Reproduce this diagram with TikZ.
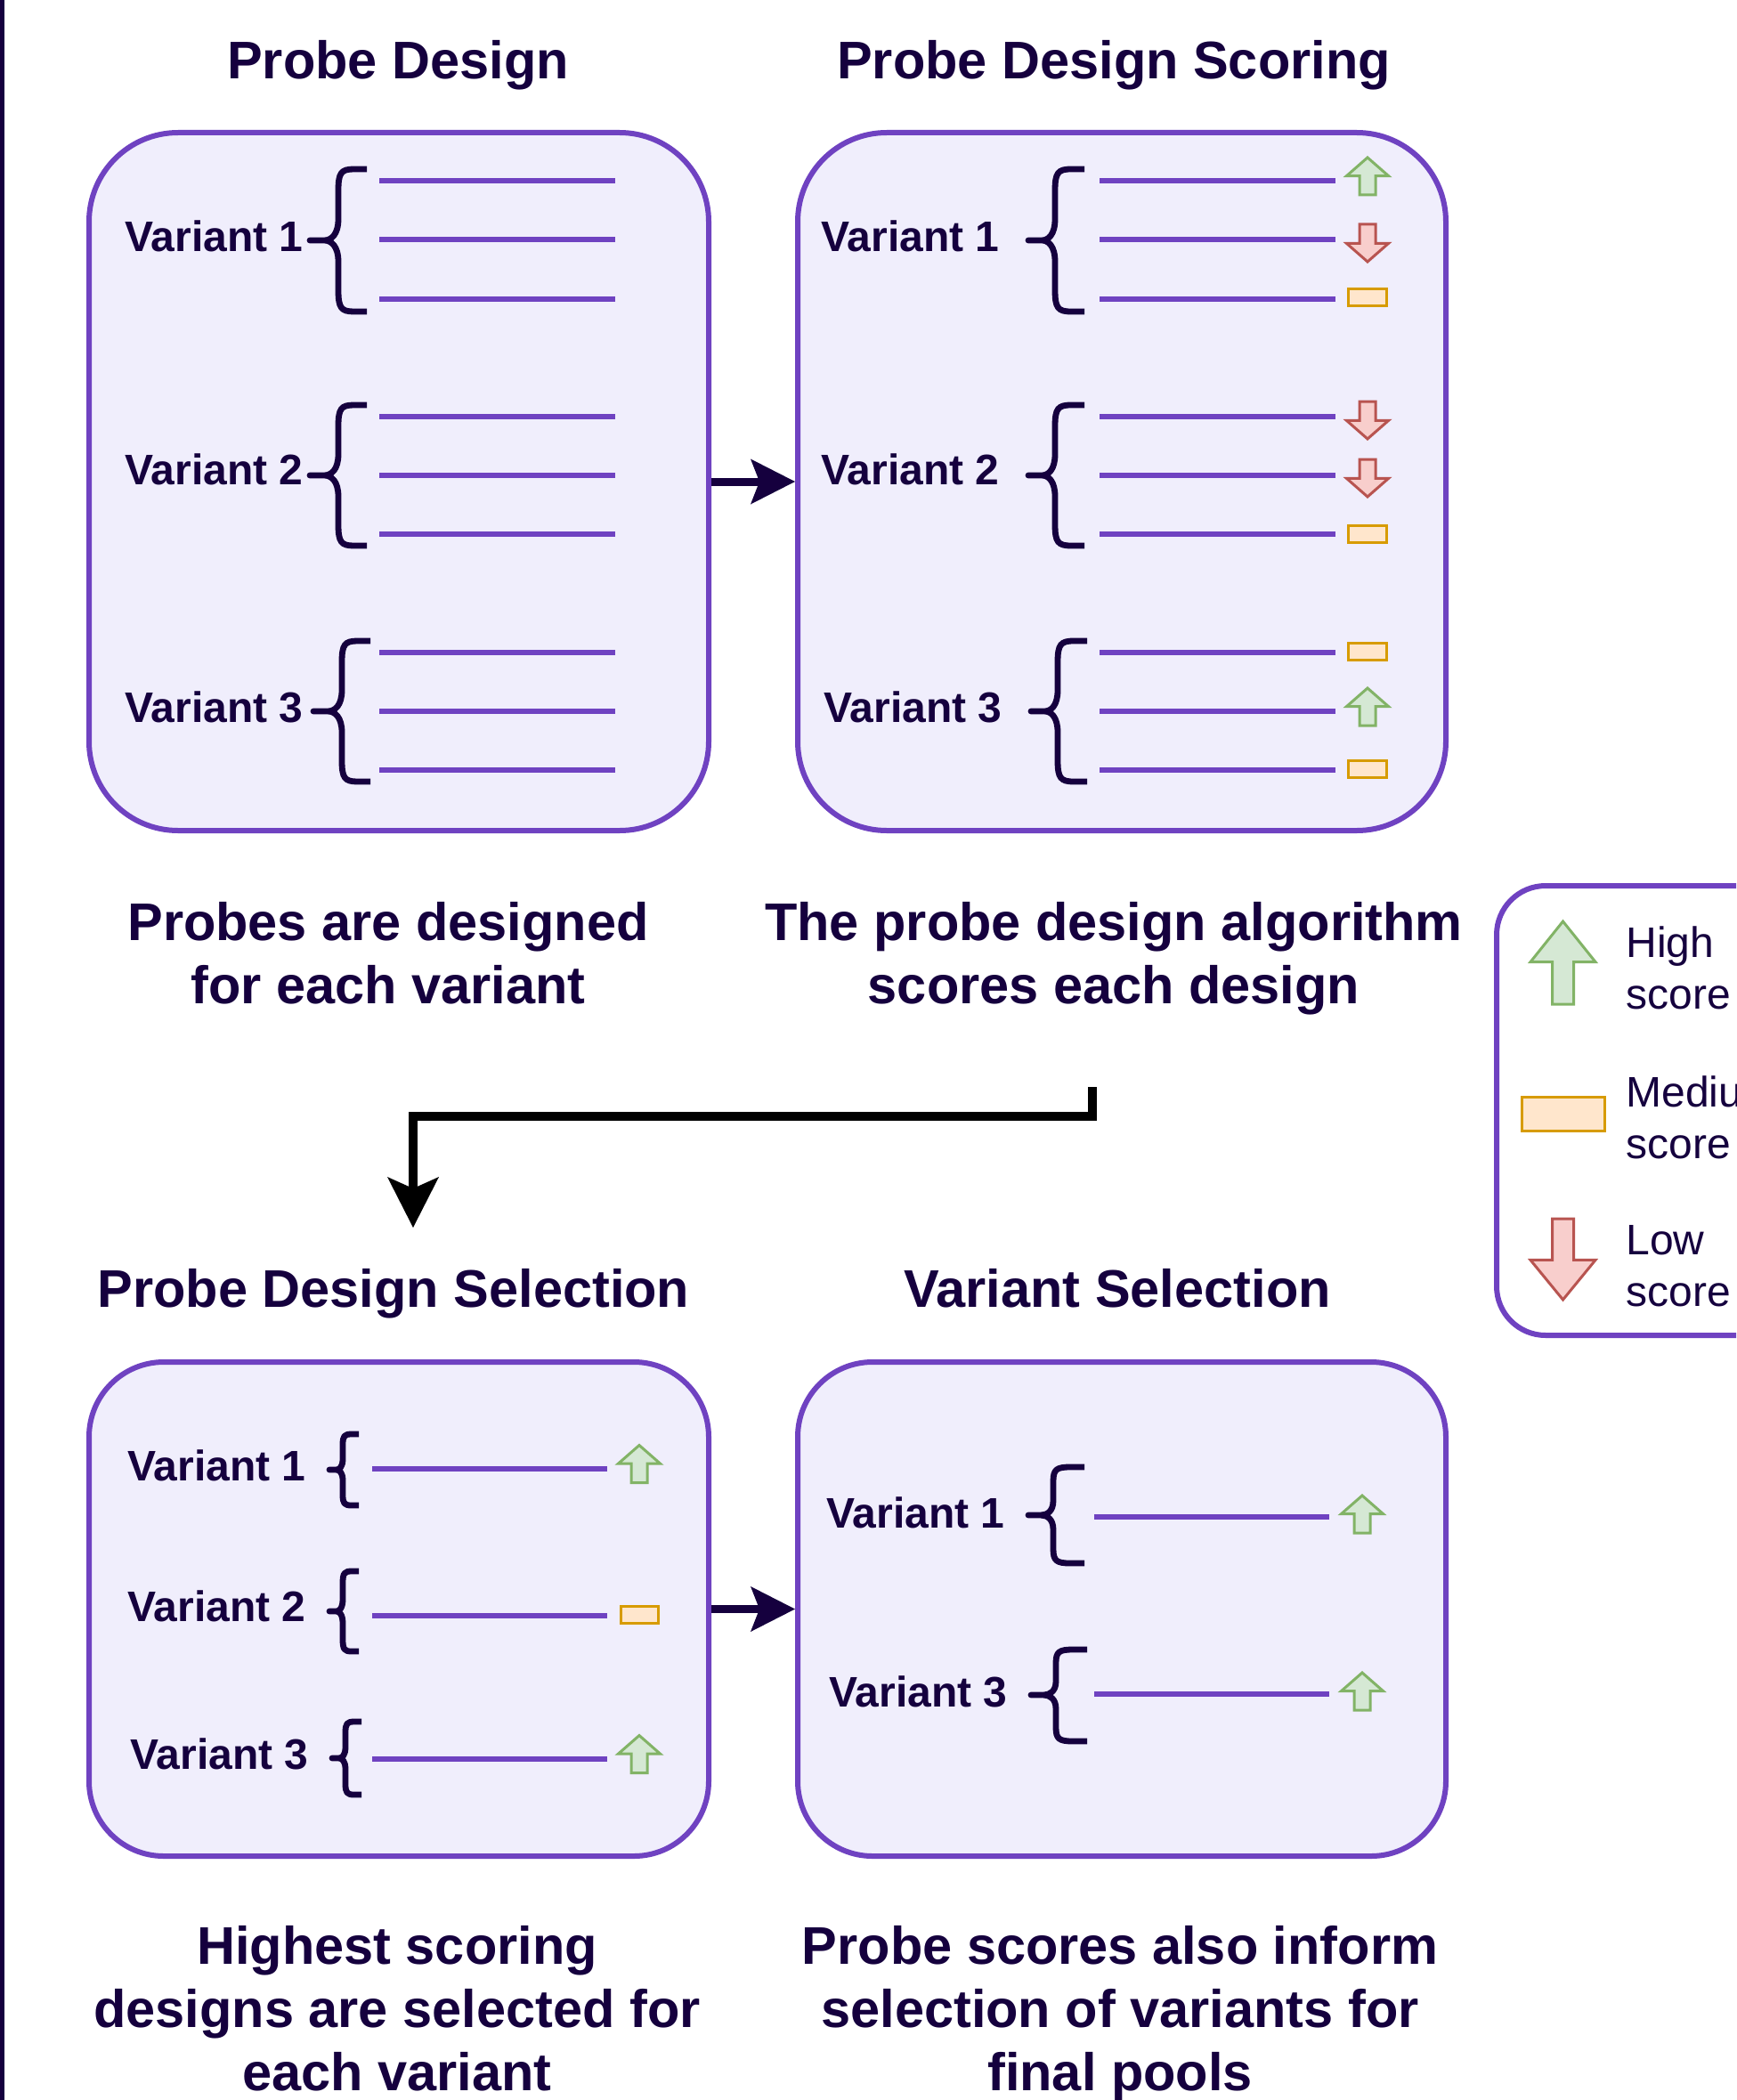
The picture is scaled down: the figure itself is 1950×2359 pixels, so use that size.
\documentclass[tikz,border=0pt]{standalone}
\usepackage{fontspec}
\setmainfont{Liberation Sans}
\usetikzlibrary{arrows.meta}

\definecolor{ink}{HTML}{15003E}
\definecolor{probeviolet}{HTML}{6F42C1}
\definecolor{panelfill}{HTML}{F0EEFC}
\definecolor{hifill}{HTML}{D5E8D4}
\definecolor{hiline}{HTML}{82B366}
\definecolor{lofill}{HTML}{F8CECC}
\definecolor{loline}{HTML}{B85450}
\definecolor{medfill}{HTML}{FFE6CC}
\definecolor{medline}{HTML}{D79B00}

% curly brace: tip x, spine x, end x, top y, mid y, bottom y
\newcommand\curly[6]{%
  \draw[brace]
    (#3,#4) -- ({#2+0.55*(#3-#2)},#4)
    .. controls ({#2+0.1*(#3-#2)},#4) and (#2,{#4+0.05*(#5-#4)}) .. (#2,{#4+0.3*(#5-#4)})
    -- (#2,{#5-0.3*(#5-#4)})
    .. controls (#2,{#5-0.08*(#5-#4)}) and ({#2-0.25*(#2-#1)},#5) .. ({#2-0.5*(#2-#1)},#5)
    -- (#1,#5) -- ({#2-0.5*(#2-#1)},#5)
    .. controls ({#2-0.25*(#2-#1)},#5) and (#2,{#5+0.08*(#6-#5)}) .. (#2,{#5+0.3*(#6-#5)})
    -- (#2,{#6-0.3*(#6-#5)})
    .. controls (#2,{#6-0.05*(#6-#5)}) and ({#2+0.1*(#3-#2)},#6) .. ({#2+0.55*(#3-#2)},#6)
    -- (#3,#6);}

% score markers: centre x, centre y, width, height, shaft width
\newcommand\hiarrow[5]{%
  \filldraw[hiscore] (#1,{#2-#4/2}) -- ({#1+#3/2},{#2-#4/2+0.49*#4})
    -- ({#1+#5/2},{#2-#4/2+0.49*#4}) -- ({#1+#5/2},{#2+#4/2})
    -- ({#1-#5/2},{#2+#4/2}) -- ({#1-#5/2},{#2-#4/2+0.49*#4})
    -- ({#1-#3/2},{#2-#4/2+0.49*#4}) -- cycle;}
\newcommand\loarrow[5]{%
  \filldraw[loscore] (#1,{#2+#4/2}) -- ({#1+#3/2},{#2+#4/2-0.49*#4})
    -- ({#1+#5/2},{#2+#4/2-0.49*#4}) -- ({#1+#5/2},{#2-#4/2})
    -- ({#1-#5/2},{#2-#4/2}) -- ({#1-#5/2},{#2+#4/2-0.49*#4})
    -- ({#1-#3/2},{#2+#4/2-0.49*#4}) -- cycle;}
\newcommand\medmark[4]{%
  \filldraw[medscore] ({#1-#3/2},{#2-#4/2}) rectangle ({#1+#3/2},{#2+#4/2});}

\begin{document}
\begin{tikzpicture}[x=0.5pt,y=-0.5pt,
  panel/.style={draw=probeviolet, line width=3pt, fill=panelfill,
    rounded corners=#1, inner sep=0pt},
  keybox/.style={draw=probeviolet, line width=3pt, fill=white,
    rounded corners=27.5pt, inner sep=0pt},
  heading/.style={font=\fontsize{29.75}{35.5}\selectfont\bfseries, text=ink,
    inner sep=0pt, align=center},
  vlabel/.style={font=\fontsize{24}{28.8}\selectfont\bfseries, text=ink, inner sep=0pt},
  keytext/.style={font=\fontsize{24}{29}\selectfont, text=ink, inner sep=0pt, align=left},
  probe/.style={draw=probeviolet, line width=3.25pt},
  brace/.style={draw=ink, line width=3.4pt, line join=round, line cap=butt},
  hiscore/.style={fill=hifill, draw=hiline, line width=1.5pt},
  loscore/.style={fill=lofill, draw=loline, line width=1.5pt},
  medscore/.style={fill=medfill, draw=medline, line width=1.5pt},
  flow/.style={draw=ink, line width=4.5pt,
    -{Stealth[length=25pt,width=25.5pt,inset=5pt,line width=0pt]}},
  bigflow/.style={draw=black, line width=5pt, line join=miter,
    -{Stealth[length=28.5pt,width=29pt,inset=6.5pt,line width=0pt]}}
]
\useasboundingbox (0,0) rectangle (1950,2359);
\clip (0,0) rectangle (1950,2359);
\fill[white] (0,0) rectangle (1950,2359);
\fill[ink] (0,0) rectangle (5,2359);

% ---------- panels ----------
\node[panel=50pt, minimum width=348pt, minimum height=392pt] (design) at (448,541) {};
\node[panel=50pt, minimum width=364pt, minimum height=392pt] (scoring) at (1260,541) {};
\node[panel=42pt, minimum width=348pt, minimum height=277.5pt] (pick) at (448,1807.5) {};
\node[panel=42pt, minimum width=364pt, minimum height=277.5pt] (final) at (1260,1807.5) {};

% ---------- headings (multi-line nodes sit on their last baseline) ----------
\node[heading, anchor=base] (h1) at (447,89) {Probe Design};
\node[heading, anchor=base] (h2) at (1251,89) {Probe Design Scoring};
\node[heading, anchor=base] (h3) at (442,1468) {Probe Design Selection};
\node[heading, anchor=base] (h4) at (1255,1468) {Variant Selection};

\node[heading, anchor=base] (c1) at (436,1127) {Probes are designed\\for each variant};
\node[heading, anchor=base] (c2) at (1251,1127) {The probe design algorithm\\scores each design};
\node[heading, anchor=base] (c3) at (446,2348) {Highest scoring\\designs are selected for\\each variant};
\node[heading, anchor=base] (c4) at (1258,2348) {Probe scores also inform\\selection of variants for\\final pools};

% ---------- panel 1: probe design ----------
\node[vlabel, anchor=base west] (d1) at (140,283) {Variant 1};
\node[vlabel, anchor=base west] (d2) at (140,544) {Variant 2};
\node[vlabel, anchor=base west] (d3) at (140,811) {Variant 3};
\curly{348}{380}{412}{190}{270}{350}
\curly{348}{380}{412}{455}{534}{613}
\curly{352}{384}{416}{720}{799}{878}
\foreach \y in {203,269,336,468,534,600,733,799,865}
  \draw[probe] (426,\y) -- (691,\y);

% ---------- panel 2: scoring ----------
\node[vlabel, anchor=base west] (s1) at (922,283) {Variant 1};
\node[vlabel, anchor=base west] (s2) at (922,544) {Variant 2};
\node[vlabel, anchor=base west] (s3) at (925,811) {Variant 3};
\curly{1155}{1185}{1218}{190}{270}{350}
\curly{1155}{1185}{1218}{455}{534}{613}
\curly{1158}{1188}{1221}{720}{799}{878}
\foreach \y in {203,269,336,468,534,600,733,799,865}
  \draw[probe] (1235,\y) -- (1500,\y);
\hiarrow{1536}{198}{47}{42}{18}
\loarrow{1536}{273}{47}{42}{18}
\medmark{1536}{334.5}{43}{19}
\loarrow{1536}{472}{47}{42}{18}
\loarrow{1536}{537}{47}{42}{18}
\medmark{1536}{599.5}{43}{19}
\medmark{1536}{732}{43}{19}
\hiarrow{1536}{794}{47}{42}{18}
\medmark{1536}{864}{43}{19}

% ---------- panel 3: design selection ----------
\node[vlabel, anchor=base west] (p1) at (143,1663) {Variant 1};
\node[vlabel, anchor=base west] (p2) at (143,1821) {Variant 2};
\node[vlabel, anchor=base west] (p3) at (146,1987) {Variant 3};
\curly{370}{385}{403}{1611}{1651}{1691}
\curly{370}{385}{403}{1765}{1810}{1855}
\curly{373}{388}{406}{1934}{1975}{2016}
\foreach \y in {1650,1815,1976}
  \draw[probe] (418,\y) -- (682,\y);
\hiarrow{718}{1644.5}{47}{42}{18}
\medmark{718}{1813.5}{42}{19}
\hiarrow{718}{1970.5}{47}{42}{18}

% ---------- panel 4: variant selection ----------
\node[vlabel, anchor=base west] (f1) at (928,1716) {Variant 1};
\node[vlabel, anchor=base west] (f3) at (931,1917) {Variant 3};
\curly{1155}{1183}{1218}{1648}{1702}{1756}
\curly{1158}{1186}{1221}{1853}{1904}{1956}
\foreach \y in {1704,1903}
  \draw[probe] (1229,\y) -- (1493,\y);
\hiarrow{1530}{1701}{47}{42}{18}
\hiarrow{1530}{1900}{47}{42}{18}

% ---------- connectors ----------
\draw[flow] (design.east) -- (scoring.west);
\draw[flow] (pick.east) -- (final.west);
\coordinate (loopstart) at (1227,1221);
\coordinate (loopend) at (464,1379);
\draw[bigflow] (loopstart) |- (464,1254) -- (loopend);

% ---------- key ----------
\node[keybox, minimum width=209.5pt, minimum height=252.5pt] (key) at (1890.5,1247.5) {};
\hiarrow{1755.5}{1081.5}{73}{93}{24}
\medmark{1755.5}{1251}{93}{38}
\loarrow{1755.5}{1414.5}{73}{91}{24}
\node[keytext, anchor=base west] (khigh) at (1826,1133) {High\\score};
\node[keytext, anchor=base west] (kmed) at (1826,1301) {Medium\\score};
\node[keytext, anchor=base west] (klow) at (1826,1467) {Low\\score};
\end{tikzpicture}
\end{document}
